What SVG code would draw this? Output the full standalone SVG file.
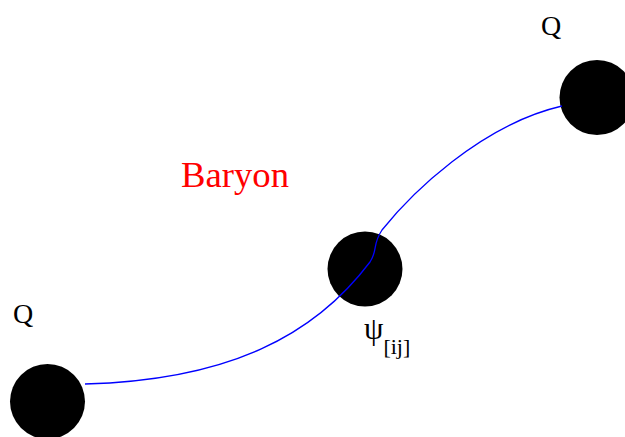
<svg xmlns="http://www.w3.org/2000/svg" width="625" height="437" viewBox="0 0 625 437">
<style>
.node{fill:#000}
.lbl{font-family:'Liberation Serif','Times New Roman',serif;fill:#000}
.str{fill:none;stroke:#0000ff;stroke-width:1.3}
</style>
<rect width="625" height="437" fill="#fff"/>
<g id="node-q1"><circle class="node" cx="597" cy="97.5" r="37.5"/><text class="lbl" x="541" y="35" font-size="28">Q</text></g>
<g id="node-q2"><circle class="node" cx="47.5" cy="401.5" r="37.5"/><text class="lbl" x="13" y="323" font-size="28">Q</text></g>
<g id="node-psi"><circle class="node" cx="365" cy="269" r="37.5"/><text class="lbl" x="364" y="339" font-size="31">ψ<tspan font-size="22" dy="15">[ij]</tspan></text></g>
<g id="label-baryon"><text class="lbl" x="181" y="187" font-size="36.7" style="fill:#ff0000">Baryon</text></g>
<g id="connectors">
<path class="str" d="M85,384 C230,380 315,335 370,262 C378,250 372,245 382,230 C410,195 480,125 562,106"/>
</g>
</svg>
